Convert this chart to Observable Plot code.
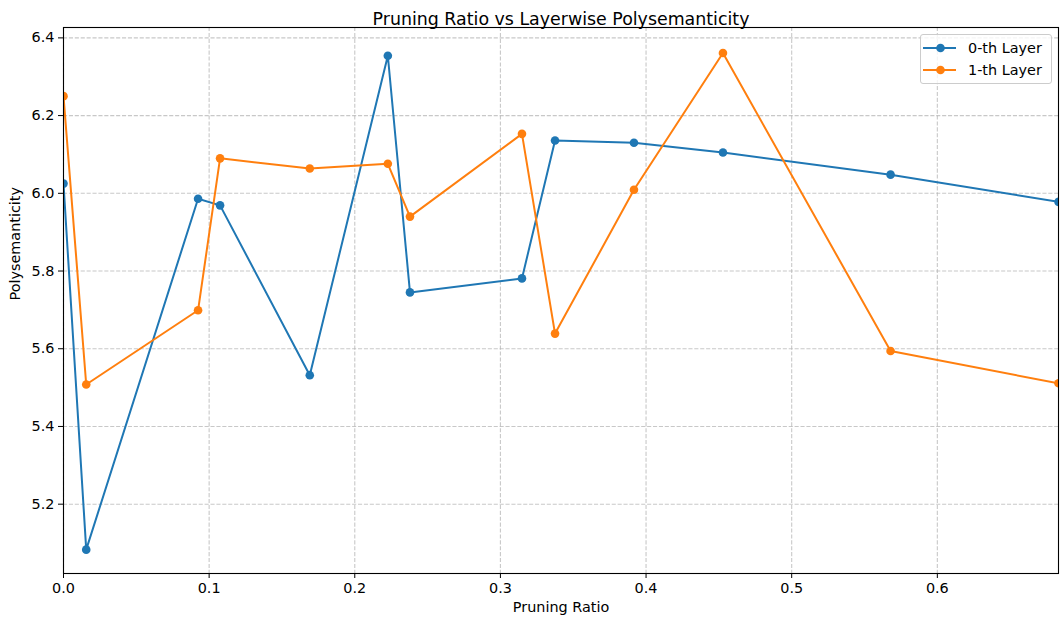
<!DOCTYPE html>
<html><head><meta charset="utf-8">
<script src="https://cdn.jsdelivr.net/npm/d3@7"></script>
<script src="https://cdn.jsdelivr.net/npm/@observablehq/plot@0.6"></script>
<style>
body{margin:0;background:#fff;font-family:"DejaVu Sans",sans-serif;}
#wrap{position:relative;width:1060px;height:624px;}
#wrap svg{display:block;}
#legend{position:absolute;left:920px;top:34px;width:132px;height:50px;border:1px solid #cccccc;border-radius:3px;background:rgba(255,255,255,0.8);box-sizing:border-box;}
.lrow{position:absolute;left:0;height:20px;}
.lrow svg{position:absolute;left:0;top:0;}
.lrow span{position:absolute;left:47px;top:1px;font-size:14.4px;color:#000;white-space:nowrap;line-height:18px;}
</style></head><body>
<div id="wrap"></div>
<script>
const ratios = [0, 0.0156, 0.0924, 0.1075, 0.1691, 0.2227, 0.2379, 0.3148, 0.3375, 0.3917, 0.4528, 0.5679, 0.6832];
const layer0 = [6.025, 5.083, 5.986, 5.969, 5.532, 6.354, 5.745, 5.781, 6.136, 6.130, 6.105, 6.048, 5.978];
const layer1 = [6.250, 5.508, 5.699, 6.090, 6.064, 6.076, 5.940, 6.153, 5.639, 6.009, 6.361, 5.594, 5.511];
const seriesNames = ["0-th Layer", "1-th Layer"];
const seriesColors = ["#1f77b4", "#ff7f0e"];
const xTicks = [0, 0.1, 0.2, 0.3, 0.4, 0.5, 0.6];
const yTicks = [5.2, 5.4, 5.6, 5.8, 6.0, 6.2, 6.4];
const titleText = "Pruning Ratio vs Layerwise Polysemanticity";
const xLabel = "Pruning Ratio";
const yLabel = "Polysemanticity";

const series = [layer0, layer1].map((vals, k) =>
  ratios.map((r, i) => ({x: r, y: vals[i], s: seriesNames[k]})));

const seriesMarks = series.flatMap((d, k) => [
  Plot.line(d, {x: "x", y: "y", stroke: seriesColors[k], strokeWidth: 2, clip: true}),
  Plot.dot(d, {x: "x", y: "y", fill: seriesColors[k], r: 4.3, clip: true})
]);

const chart = Plot.plot({
  width: 1060,
  height: 624,
  marginLeft: 63,
  marginRight: 2,
  marginTop: 27,
  marginBottom: 51,
  style: {fontFamily: "DejaVu Sans, sans-serif", fontSize: "14.4px", color: "#000", background: "#fff"},
  x: {domain: [0, 0.6832]},
  y: {domain: [5.0216, 6.4267]},
  marks: [
    Plot.gridX(xTicks, {stroke: "#b0b0b0", strokeOpacity: 0.7, strokeWidth: 1.1, strokeDasharray: "4.1,1.8"}),
    Plot.gridY(yTicks, {stroke: "#b0b0b0", strokeOpacity: 0.7, strokeWidth: 1.1, strokeDasharray: "4.1,1.8"}),
    ...seriesMarks,
    Plot.frame({stroke: "#000", strokeWidth: 1.1}),
    Plot.axisX(xTicks, {tickSize: 5, tickPadding: 4, tickFormat: d3.format(".1f"), fontSize: 14.4, label: null, stroke: "#000", fill: "#000"}),
    Plot.axisY(yTicks, {tickSize: 5, tickPadding: 4, tickFormat: d3.format(".1f"), fontSize: 14.4, label: null, stroke: "#000", fill: "#000"}),
    Plot.text([xLabel], {frameAnchor: "bottom", dy: 38, fontSize: 14.4, fill: "#000"}),
    Plot.text([yLabel], {frameAnchor: "left", dx: -48, rotate: -90, fontSize: 14.4, fill: "#000"}),
    Plot.text([titleText], {frameAnchor: "top", dy: -15, fontSize: 17.4, fill: "#000"})
  ]
});

const wrap = document.getElementById("wrap");
wrap.appendChild(chart);

const legend = document.createElement("div");
legend.id = "legend";
seriesNames.forEach((name, k) => {
  const row = document.createElement("div");
  row.className = "lrow";
  row.style.top = (3 + k * 22) + "px";
  row.innerHTML = `<svg width="38" height="20"><line x1="2" y1="10" x2="35" y2="10" stroke="${seriesColors[k]}" stroke-width="2"/><circle cx="19.5" cy="10" r="4.3" fill="${seriesColors[k]}"/></svg><span>${name}</span>`;
  legend.appendChild(row);
});
wrap.appendChild(legend);
</script>
</body></html>
